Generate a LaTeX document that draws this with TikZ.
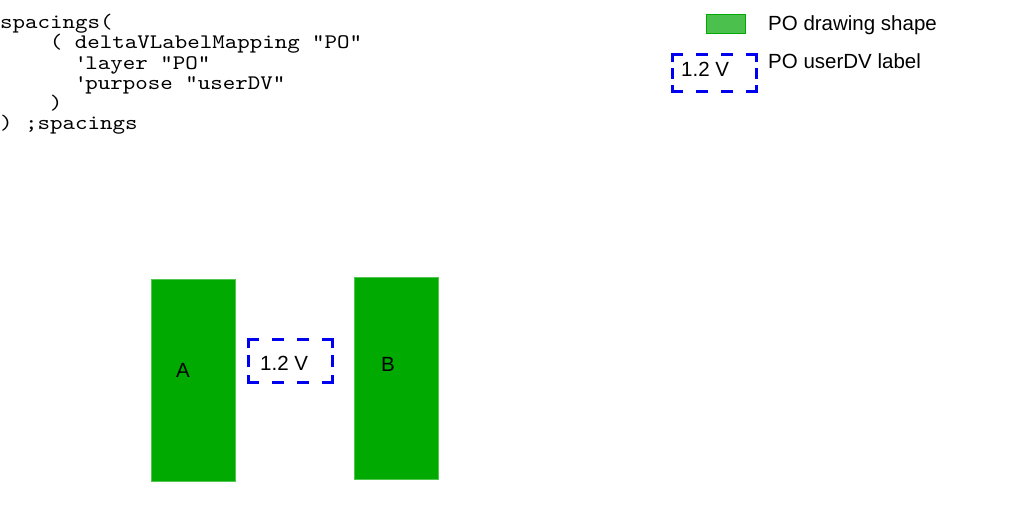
\documentclass[tikz,border=0pt]{standalone}
\usepackage{fontspec}
\setmainfont{Liberation Sans}
\newfontfamily\codefont{lmmono10-regular.otf}[FakeStretch=1.15]
\usepackage{tikz}

\definecolor{shapegreen}{RGB}{0,170,0}
\definecolor{shapeedge}{RGB}{80,200,80}
\definecolor{legendgreen}{RGB}{76,192,76}
\definecolor{dvblue}{RGB}{0,0,240}

\tikzset{
  codeline/.style={anchor=base west, inner sep=0pt, font=\codefont\fontsize{20.7}{21}\selectfont},
  txt/.style={anchor=base west, inner sep=0pt, font=\fontsize{20.5}{22}\selectfont},
  poshape/.style={draw=shapeedge, fill=shapegreen, line width=0.8pt, anchor=north west, inner sep=0pt},
  dvarea/.style={anchor=north west, inner sep=0pt, minimum width=83.7pt, minimum height=42.7pt},
  % one half side of a dashed label frame: off length, phase
  dvside/.style 2 args={draw=dvblue, line width=3.3pt, line cap=rect,
    dash pattern=on 8.7pt off #1, dash phase=#2}
}

\begin{document}
\begin{tikzpicture}[x=1pt,y=-1pt]
    \useasboundingbox (0,0) rectangle (1013,507);

    % code
    \node[codeline] (c1) at (0,28)     {spacings(};
    \node[codeline] (c2) at (49.6,48)  {( deltaVLabelMapping "PO"};
    \node[codeline] (c3) at (74.4,69)  {\textquotesingle layer "PO"};
    \node[codeline] (c4) at (74.4,89)  {\textquotesingle purpose "userDV"};
    \node[codeline] (c5) at (49.6,109) {)};
    \node[codeline] (c6) at (0,129)    {) ;spacings};

    % legend
    \node[draw=shapegreen, fill=legendgreen, line width=0.8pt, anchor=north west,
          minimum width=39pt, minimum height=19pt, inner sep=0pt] (lgshape) at (706,14) {};
    \node[txt] (lgshapetxt) at (768,30) {PO drawing shape};
    \node[dvarea, minimum height=36.7pt] (lgdv) at (672.65,54.65) {};
    \draw[dvside={16.3pt}{0pt}] (lgdv.north west) -- (lgdv.north) (lgdv.north east) -- (lgdv.north)
        (lgdv.south west) -- (lgdv.south) (lgdv.south east) -- (lgdv.south);
    \draw[dvside={9.3pt}{3.35pt}] (lgdv.north west) -- (lgdv.west) (lgdv.south west) -- (lgdv.west)
        (lgdv.north east) -- (lgdv.east) (lgdv.south east) -- (lgdv.east);
    \node[txt] (lgdvval) at (681,76) {1.2 V};
    \node[txt] (lgdvtxt) at (768,68) {PO userDV label};

    % shapes
    \node[poshape, minimum width=84pt, minimum height=202pt] (A) at (151,279) {};
    \node[txt] (Alabel) at (176,377) {A};
    \node[poshape, minimum width=84pt, minimum height=202pt] (B) at (354,277) {};
    \node[txt] (Blabel) at (381,371) {B};

    % label
    \node[dvarea] (dv) at (248.65,339.65) {};
    \draw[dvside={16.3pt}{0pt}] (dv.north west) -- (dv.north) (dv.north east) -- (dv.north)
        (dv.south west) -- (dv.south) (dv.south east) -- (dv.south);
    \draw[dvside={10.65pt}{2.35pt}] (dv.north west) -- (dv.west) (dv.south west) -- (dv.west)
        (dv.north east) -- (dv.east) (dv.south east) -- (dv.east);
    \node[txt] (dvval) at (260,370) {1.2 V};

\end{tikzpicture}
\end{document}
